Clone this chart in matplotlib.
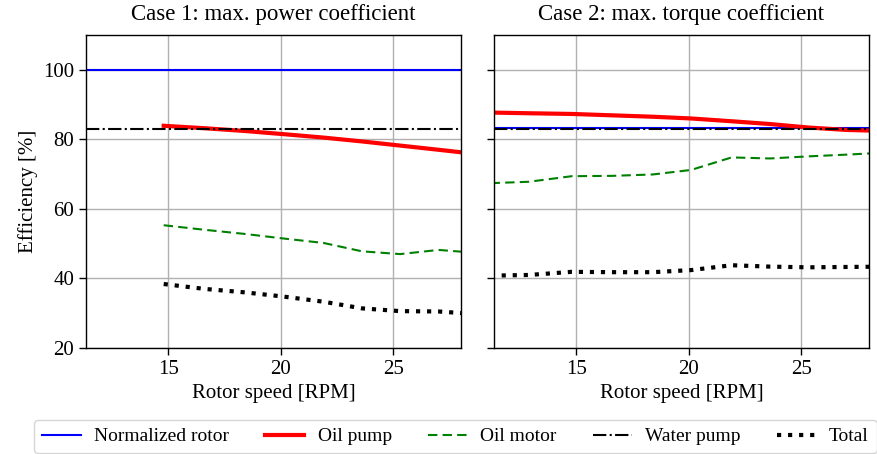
import matplotlib.pyplot as plt
import numpy as np

plt.rcParams['font.family'] = 'Liberation Serif'
plt.rcParams['font.size'] = 15

rpm = [11.2, 12.9, 14.8, 16.6, 18.4, 20.1, 21.9, 23.6, 25.3, 27.0, 28.8]

# case 1 (starts at 14.8 rpm)
c1_rpm = rpm[2:]
c1_rotor = 100.0
c1_water = 83.1
c1_oil_pump = [83.9, 83.2, 82.4, 81.5, 80.5, 79.4, 78.2, 77.0, 75.7]
c1_oil_motor = [55.3, 54.0, 52.8, 51.5, 50.2, 47.8, 47.0, 48.2, 47.3]
c1_total = [38.4, 37.0, 36.0, 34.8, 33.3, 31.4, 30.6, 30.5, 29.7]

# case 2
c2_rotor = 83.4
c2_water = 83.1
c2_oil_pump = [87.7, 87.5, 87.3, 86.9, 86.5, 86.0, 85.2, 84.4, 83.4, 82.7, 82.4]
c2_oil_motor = [67.4, 67.8, 69.4, 69.5, 69.9, 71.2, 74.8, 74.5, 75.1, 75.6, 76.2]
c2_total = [40.8, 41.0, 41.9, 41.8, 41.8, 42.4, 43.8, 43.4, 43.2, 43.3, 43.4]

fig = plt.figure(figsize=(8.78, 4.54), dpi=100)
ax1 = fig.add_axes([86/878, 1-348/454, 375/878, 313/454])
ax2 = fig.add_axes([494/878, 1-348/454, 375/878, 313/454], sharey=ax1)


def draw(ax, x, rotor, oil_pump, oil_motor, water, total, title):
    ax.axhline(rotor, color='blue', lw=1.5, label='Normalized rotor')
    ax.plot(x, oil_pump, color='red', lw=3, label='Oil pump')
    ax.plot(x, oil_motor, color='green', lw=1.5, ls='--', dashes=(4.5, 2.5),
            label='Oil motor')
    ax.axhline(water, color='black', lw=1.5, ls='-.', label='Water pump')
    ax.plot(x, total, color='black', lw=3, ls=':', label='Total')
    ax.set_title(title, fontsize=16.5, pad=10.5)
    ax.set_xlabel('Rotor speed [RPM]')
    ax.set_xlim(11.35, 28.0)
    ax.set_xticks([15, 20, 25])
    ax.grid(True, color='#b0b0b0', lw=1)
    ax.set_axisbelow(True)
    ax.tick_params(length=5, width=1)
    for s in ax.spines.values():
        s.set_linewidth(1)


draw(ax1, c1_rpm, c1_rotor, c1_oil_pump, c1_oil_motor, c1_water, c1_total,
     'Case 1: max. power coefficient')
draw(ax2, rpm, c2_rotor, c2_oil_pump, c2_oil_motor, c2_water, c2_total,
     'Case 2: max. torque coefficient')

ax1.set_ylim(20, 110)
ax1.set_yticks([20, 40, 60, 80, 100])
ax1.set_ylabel('Efficiency [%]')
plt.setp(ax2.get_yticklabels(), visible=False)

handles, labels = ax1.get_legend_handles_labels()
fig.legend(handles, labels, loc='upper left', bbox_to_anchor=(34/878, 1-420/454),
           ncol=5, fontsize=14, handlelength=2.0, columnspacing=1.85,
           handletextpad=0.7, borderpad=0.4, borderaxespad=0)

fig.savefig('out.png', dpi=100)
